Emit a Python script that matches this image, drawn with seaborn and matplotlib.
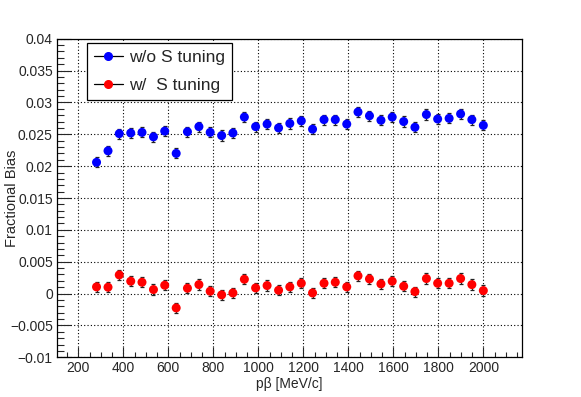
import numpy as np
import pandas as pd
import matplotlib
matplotlib.use("Agg")
import matplotlib.pyplot as plt
from matplotlib.ticker import MultipleLocator, FuncFormatter
from matplotlib.lines import Line2D
import seaborn as sns

# p*beta bin centres [MeV/c]
pbeta = [281, 332, 382, 433, 483, 534, 584, 635, 685, 736, 786, 837, 887,
         938, 988, 1039, 1090, 1140, 1191, 1241, 1292, 1342, 1393, 1443,
         1494, 1545, 1595, 1646, 1696, 1747, 1797, 1848, 1899, 1949, 2000]

# fractional bias without S tuning
bias_wo = [0.0206, 0.0224, 0.0251, 0.0252, 0.0253, 0.0246, 0.0255, 0.0220,
           0.0254, 0.0262, 0.0253, 0.0248, 0.0252, 0.0277, 0.0262, 0.0266,
           0.0260, 0.0267, 0.0271, 0.0258, 0.0273, 0.0273, 0.0266, 0.0285,
           0.0279, 0.0272, 0.0277, 0.0270, 0.0261, 0.0281, 0.0274, 0.0275,
           0.0282, 0.0273, 0.0264]

# fractional bias with S tuning
bias_w = [0.00105, 0.00100, 0.00293, 0.00194, 0.00178, 0.00063, 0.00131,
          -0.00225, 0.00084, 0.00141, 0.00037, -0.00020, 0.00010, 0.00225,
          0.00089, 0.00126, 0.00052, 0.00105, 0.00162, 0.00010, 0.00162,
          0.00178, 0.00105, 0.00278, 0.00230, 0.00152, 0.00194, 0.00115,
          0.00031, 0.00236, 0.00162, 0.00162, 0.00236, 0.00141, 0.00047]

err_wo = 0.0008
err_w = 0.0008

labels = ["w/o S tuning", "w/  S tuning"]
colors = ["#0000ff", "#ff0000"]

df = pd.DataFrame({
    "pbeta": pbeta * 2,
    "bias": bias_wo + bias_w,
    "series": [labels[0]] * len(pbeta) + [labels[1]] * len(pbeta),
})

sns.set_style("white")
plt.rcParams["font.family"] = ["Liberation Sans", "DejaVu Sans"]

fig = plt.figure(figsize=(5.81, 3.97), dpi=100)
ax = fig.add_axes([0.098, 0.1, 0.8005, 0.8025])

# error bars first, markers on top
ax.errorbar(pbeta, bias_wo, yerr=err_wo, fmt="none", ecolor="#222222",
            elinewidth=0.9, capsize=1.6, capthick=0.9, zorder=2)
ax.errorbar(pbeta, bias_w, yerr=err_w, fmt="none", ecolor="#222222",
            elinewidth=0.9, capsize=1.6, capthick=0.9, zorder=2)

sns.scatterplot(data=df, x="pbeta", y="bias", hue="series",
                palette=dict(zip(labels, colors)), s=42, linewidth=0,
                legend=False, ax=ax, zorder=3)

ax.set_xlim(105, 2172)
ax.set_ylim(-0.01, 0.04)

ax.xaxis.set_major_locator(MultipleLocator(200))
ax.xaxis.set_minor_locator(MultipleLocator(50))
ax.yaxis.set_major_locator(MultipleLocator(0.005))
ax.yaxis.set_minor_locator(MultipleLocator(0.001))
ax.yaxis.set_major_formatter(FuncFormatter(lambda v, p: ("%g" % round(v, 4)).replace("-", "\u2212")))

ax.tick_params(axis="y", which="major", direction="in", length=10, width=0.8,
               labelsize=10, pad=3, left=True, right=False)
ax.tick_params(axis="y", which="minor", direction="in", length=5, width=0.8,
               left=True, right=False)
ax.tick_params(axis="x", which="major", direction="in", length=7, width=0.8,
               labelsize=10, pad=3, bottom=True, top=False)
ax.tick_params(axis="x", which="minor", direction="in", length=3.5, width=0.8,
               bottom=True, top=False)

ax.grid(True, which="major", linestyle=(0, (1, 2)), color="black", linewidth=0.8)
ax.set_axisbelow(True)
for s in ax.spines.values():
    s.set_color("black")
    s.set_linewidth(0.9)

ax.set_xlabel("p\u03b2 [MeV/c]", fontsize=10, labelpad=1)
ax.set_ylabel("Fractional Bias", fontsize=10.5)
ax.yaxis.set_label_coords(-0.081, 0.5)

handles = [Line2D([0], [0], color="black", lw=0.9, marker="o", markersize=5.5,
                  markerfacecolor=c, markeredgecolor=c) for c in colors]
leg = ax.legend(handles, labels, loc="upper left", bbox_to_anchor=(0.064, 0.988),
                fontsize=12.5, frameon=True, fancybox=False, framealpha=1,
                edgecolor="black", handlelength=1.7, handletextpad=0.35,
                borderpad=0.4, labelspacing=0.75, borderaxespad=0)
leg.get_frame().set_linewidth(0.9)

fig.savefig("out.png", dpi=100)
